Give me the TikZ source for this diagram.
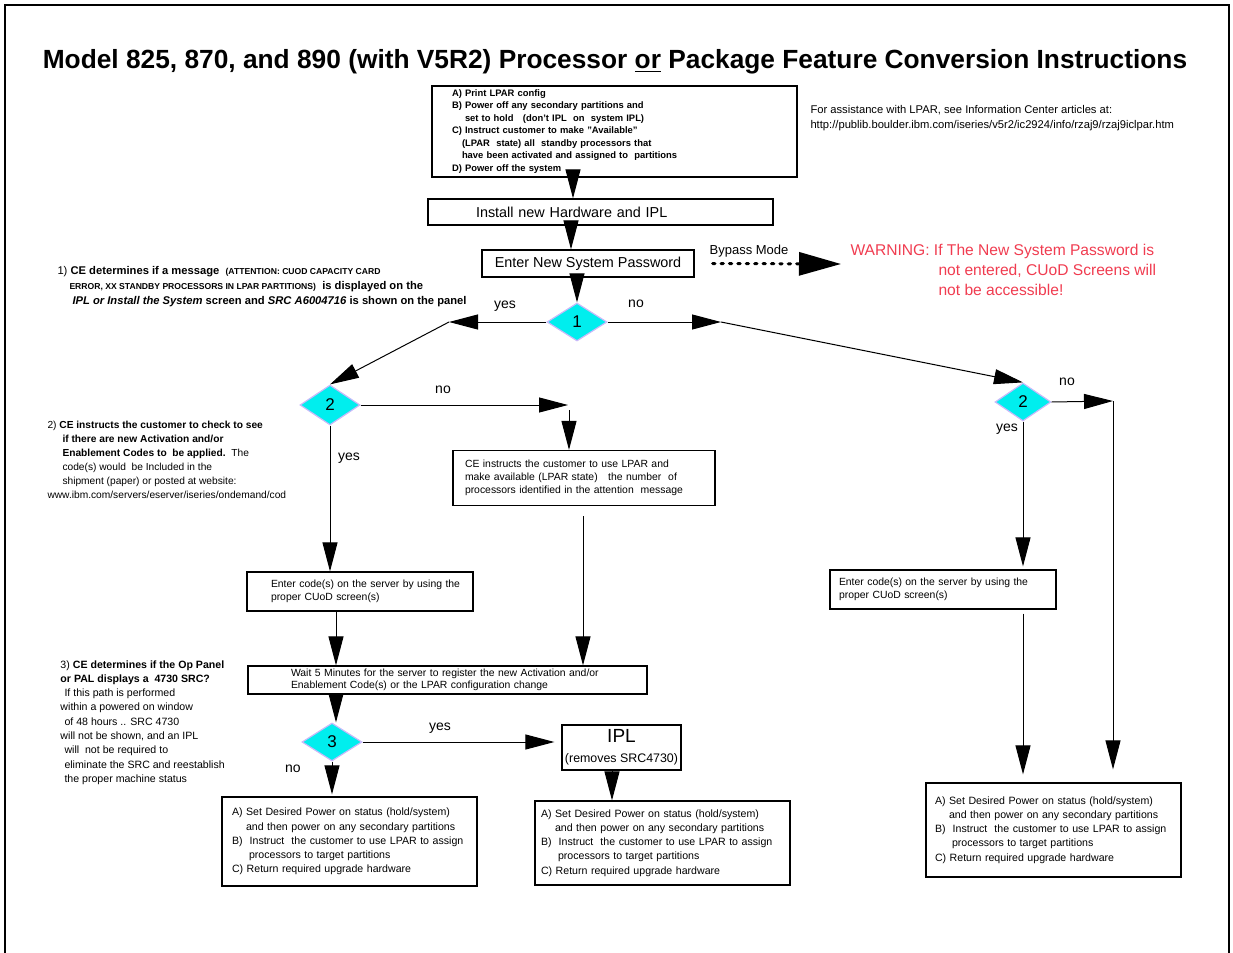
\documentclass[tikz,border=0pt]{standalone}
\usepackage{fontspec}
\setmainfont{Liberation Sans}
\usepackage{tikz}
\usetikzlibrary{positioning,calc,arrows.meta,shapes.geometric}
\definecolor{mycyan}{RGB}{0,238,238}
\definecolor{mylilac}{RGB}{200,185,250}
\definecolor{mywarn}{RGB}{240,60,80}
\newcommand\finalsteps{A) Set Desired Power on status (hold/system)\\
  \hspace*{7pt}and then power on any secondary partitions\\
  B)\ \ Instruct\ \ the customer to use LPAR to assign\\
  \hspace*{8.5pt}processors to target partitions\\
  C) Return required upgrade hardware}
\newcommand\codesteps[1]{\hspace*{#1}Enter code(s) on the server by using the\\
  \hspace*{#1}proper CUoD screen(s)}
\tikzset{
  flowpic/.style={
    x=0.5pt,y=-0.5pt
    ,line width=.5pt
    ,>={Triangle[length=14.5pt,width=7.5pt]}
  }
  ,bounder/.style={rectangle,draw=black,line width=.6pt,inner ysep=0pt,align=left}
  ,boxtext/.style={font=\fontsize{5.3}{7.1}\selectfont}
  ,codetext/.style={font=\fontsize{5.2}{6.8}\selectfont}
  ,cfgtext/.style={font=\fontsize{4.7}{6.25}\selectfont\bfseries}
  ,bigtext/.style={font=\fontsize{7.2}{8}\selectfont}
  ,note/.style={inner sep=0pt,align=left,font=\fontsize{5.1}{7}\selectfont}
  ,answer/.style={inner sep=0pt,font=\fontsize{7}{8}\selectfont}
  ,decision/.style={diamond,fill=mycyan,draw=mylilac,line width=.6pt
    ,minimum width=30pt,minimum height=19pt,inner sep=0pt
    ,font=\fontsize{8.5}{9}\selectfont}
  ,warn/.style={inner sep=0pt,align=left,text=mywarn,font=\fontsize{7.8}{10}\selectfont}
  ,flow/.style={->}
  ,bypass/.style={line width=1.5pt,line cap=round,dash pattern=on 1.2pt off 3pt
    ,-{Triangle[length=21pt,width=11.5pt]}}
}
\begin{document}
\begin{tikzpicture}[flowpic]
  \useasboundingbox (0,0) rectangle (1233,953);
  % frame
  \draw[line width=.6pt] (5,953) -- (5,5) -- (1229,5) -- (1229,953);

  % title
  \node[font=\fontsize{13.15}{14}\selectfont\bfseries,inner sep=0pt] (title) at (615,62)
    {Model 825, 870, and 890 (with V5R2) Processor \underline{or} Package Feature Conversion Instructions};

  % column positions
  \coordinate (colA) at (573,0);
  \coordinate (colB) at (571,0);
  \coordinate (colD) at (569,0);
  \coordinate (colF) at (336,0);
  \coordinate (colG) at (583,0);
  \coordinate (colI) at (612,0);
  \coordinate (yesA) at (449,322);
  \coordinate (noA) at (721,322);
  \coordinate (noB) at (568,405);
  \coordinate (noC) at (1113,401);
  \coordinate (bypassend) at (841,264);

  % boxes
  \node[bounder,cfgtext,minimum width=182.5pt,minimum height=45.5pt
    ,inner xsep=10pt,text width=162.5pt] (cfgbox) at (614.5,131.5)
    {A) Print LPAR config\\
     B) Power off any secondary partitions and\\
     \hspace*{6.5pt}set to hold\ \ \ (don't IPL\ \ on\ \ system IPL)\\
     C) Instruct customer to make "Available"\\
     \hspace*{5pt}(LPAR\ \ state) all\ \ standby processors that\\
     \hspace*{5pt}have been activated and assigned to\ \ partitions\\
     D) Power off the system};
  \node[bounder,bigtext,minimum width=172.5pt,minimum height=13pt
    ,inner xsep=24pt,text width=124.5pt] (hwbox) at (600.5,212)
    {Install new Hardware and IPL};
  \node[bounder,bigtext,minimum width=106pt,minimum height=13.5pt,align=center]
    (pwbox) at (588,263.5) {Enter New System Password};
  \node[bounder,font=\fontsize{5.2}{6.5}\selectfont,minimum width=131pt,minimum height=27.5pt
    ,inner xsep=6pt,text width=119pt] (cebox) at (584,478)
    {CE instructs the customer to use LPAR and\\
     make available (LPAR state)\ \ \ the number\ \ of\\
     processors identified in the attention\ \ message};
  \node[bounder,codetext,minimum width=113pt,minimum height=19.5pt
    ,inner xsep=6pt,text width=101pt] (codeL) at (360,591.5) {\codesteps{6pt}};
  \node[bounder,font=\fontsize{5.2}{6}\selectfont,minimum width=199.5pt,minimum height=14pt
    ,inner xsep=21.5pt,text width=156.5pt] (waitbox) at (447.5,680)
    {Wait 5 Minutes for the server to register the new Activation and/or\\
     Enablement Code(s) or the LPAR configuration change};
  \node[bounder,font=\fontsize{6.2}{10}\selectfont,minimum width=59.5pt,minimum height=22.5pt
    ,align=center,inner xsep=0pt] (iplbox) at (621.5,747.5)
    {{\fontsize{9.5}{10}\selectfont IPL}\\(removes SRC4730)};
  \node[bounder,boxtext,minimum width=127.5pt,minimum height=44.5pt
    ,inner xsep=5pt,text width=117.5pt] (finL) at (349.5,841.5) {\finalsteps};
  \node[bounder,boxtext,minimum width=127.5pt,minimum height=42pt
    ,inner xsep=3pt,text width=121.5pt] (finM) at (662.5,843) {\finalsteps};
  \node[bounder,codetext,minimum width=113pt,minimum height=19.5pt
    ,inner xsep=4.5pt,text width=104pt] (codeR) at (943,589.5) {\codesteps{0pt}};
  \node[bounder,boxtext,minimum width=127.5pt,minimum height=47pt
    ,inner xsep=4.5pt,text width=118.5pt] (finR) at (1053.5,830) {\finalsteps};

  % decisions
  \node[decision] (d1) at (577,322) {1};
  \node[decision,minimum height=20pt] (d2L) at (330,405) {2};
  \node[decision,minimum width=28pt] (d2R) at (1023,402) {2};
  \node[decision] (d3) at (332,742) {3};

  % notes
  \node[note,font=\fontsize{5.6}{7.5}\selectfont,anchor=west] (info) at (810,118.5)
    {For assistance with LPAR, see Information Center articles at:\\
     http://publib.boulder.ibm.com/iseries/v5r2/ic2924/info/rzaj9/rzaj9iclpar.htm};
  \node[note,font=\fontsize{5.6}{7.5}\selectfont,anchor=west] (step1) at (57,287)
    {1) \textbf{CE determines if a message\ \ {\fontsize{4.3}{4}\selectfont (ATTENTION: CUOD CAPACITY CARD}}\\
     \hspace*{6pt}\textbf{{\fontsize{4.3}{4}\selectfont ERROR, XX STANDBY PROCESSORS IN LPAR PARTITIONS)}\ \ is displayed on the}\\
     \hspace*{7.5pt}\textbf{\textit{IPL or Install the System} screen and \textit{SRC A6004716} is shown on the panel}};
  \node[note,anchor=west] (step2) at (47,459.5)
    {2) \textbf{CE instructs the customer to check to see}\\
     \hspace*{7.5pt}\textbf{if there are new Activation and/or}\\
     \hspace*{7.5pt}\textbf{Enablement Codes to\ \ be applied.}\ \ The\\
     \hspace*{7.5pt}code(s) would\ \ be Included in the\\
     \hspace*{7.5pt}shipment (paper) or posted at website:\\
     www.ibm.com/servers/eserver/iseries/ondemand/cod};
  \node[note,font=\fontsize{5.3}{7.15}\selectfont,anchor=west] (step3) at (60,722.5)
    {3) \textbf{CE determines if the Op Panel}\\
     \textbf{or PAL displays a\ \ 4730 SRC?}\\
     \hspace*{2pt}If this path is performed\\
     within a powered on window\\
     \hspace*{2pt}of 48 hours .. SRC 4730\\
     will not be shown, and an IPL\\
     \hspace*{2pt}will\ \ not be required to\\
     \hspace*{2pt}eliminate the SRC and reestablish\\
     \hspace*{2pt}the proper machine status};
  \node[warn,anchor=west] (warning) at (938,270)
    {\hspace*{-44pt}WARNING: If The New System Password is\\
     not entered, CUoD Screens will\\
     not be accessible!};

  % answer labels
  \node[answer] (yes1) at (505,306) {yes};
  \node[answer] (no1) at (636,304) {no};
  \node[answer] (no2) at (443,390) {no};
  \node[answer] (yes2) at (349,458) {yes};
  \node[answer] (no3) at (1067,382) {no};
  \node[answer] (yes3) at (1007,429) {yes};
  \node[answer] (yes4) at (440,728) {yes};
  \node[answer] (no4) at (293,769) {no};
  \node[answer,font=\fontsize{6.5}{7}\selectfont] (bypasslbl) at (749,251) {Bypass Mode};

  % connectors
  \draw[flow] (cfgbox.south -| colA) -- (hwbox.north -| colA);
  \draw[flow] (hwbox.south -| colB) -- (pwbox.north -| colB);
  \draw[flow] (pwbox.south -| d1.north) -- (d1.north);
  \draw[bypass] ([xshift=9pt]pwbox.east) -- (bypassend);
  \draw[flow] (d1.west) -- (yesA);
  \draw[flow] (yesA) -- (d2L.north);
  \draw[flow] (d1.east) -- (noA);
  \draw[flow] (noA) -- (d2R.north);
  \draw[flow] (d2L.east) -- (noB);
  \draw[flow] ([yshift=-2.5pt]noB -| colD) -- (cebox.north -| colD);
  \draw[flow] (d2L.south) -- (codeL.north -| d2L.south);
  \draw[flow] (codeL.south -| colF) -- (waitbox.north -| colF);
  \draw[flow] ([yshift=-5pt]cebox.south -| colG) -- (waitbox.north -| colG);
  \draw[flow] (waitbox.south -| colF) -- (d3.north -| colF);
  \draw[flow] (d3.east) -- ([xshift=-3.5pt]iplbox.west |- d3.east);
  \draw[flow] (iplbox.south -| colI) -- (finM.north -| colI);
  \draw[flow] (d3.south) -- ([yshift=1pt]finL.north -| d3.south);
  \draw[flow] (d2R.east) -- (noC);
  \draw[flow] (noC) -- ([yshift=6.5pt]finR.north -| noC);
  \draw[flow] (d2R.south) -- ([yshift=1.5pt]codeR.north -| d2R.south);
  \draw[flow] ([yshift=-2pt]codeR.south -| d2R.south) -- ([yshift=4pt]finR.north -| d2R.south);
\end{tikzpicture}
\end{document}
